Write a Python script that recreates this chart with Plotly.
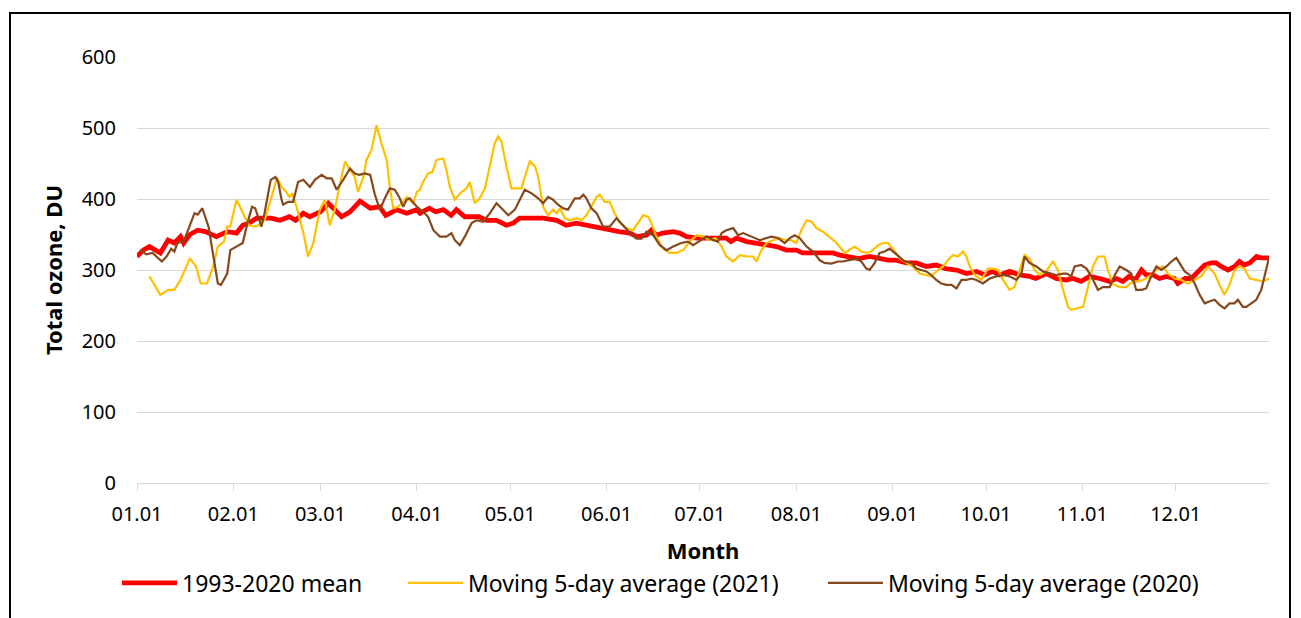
import plotly.graph_objects as go

# ---------------- data (day of year, 0 = 1 January) ----------------
month_ticks = [0, 31, 59, 90, 120, 151, 181, 212, 243, 273, 304, 334]
month_labels = ["01.01", "02.01", "03.01", "04.01", "05.01", "06.01",
                "07.01", "08.01", "09.01", "10.01", "11.01", "12.01"]
y_ticks = [0, 100, 200, 300, 400, 500, 600]

mean_days = [0, 2, 4, 7.5, 10, 12, 14, 15, 17, 19.5, 22, 25.5, 29, 32, 34, 36, 38.5, 43, 46, 49, 51, 53.5,
             55.6, 59, 61.5, 63.6, 65.8, 68.5, 71.7, 75, 78, 80, 83.5, 86.7, 90, 91, 94, 96, 98.5,
             101, 102.7, 105.4, 108, 110, 112.4, 115.6, 118.8, 121, 123, 127.4, 130.6, 135, 138,
             141.3, 144.5, 147.8, 152, 155, 158.5, 160.6, 163.8, 165.4, 167, 169, 172.4, 174.5,
             176.7, 180, 184, 189.5, 191, 192.8, 196, 199, 202.4, 205.6, 208.8, 212, 214, 217.4,
             220.6, 223.8, 226, 229, 232, 235.6, 238.8, 241.5, 244, 247.4, 250.6, 253.8, 257, 260,
             263.5, 266.7, 270, 272.6, 275, 277.4, 280.6, 283.8, 287, 289, 292.4, 295.6, 298.8,
             301, 303.6, 306.3, 309.5, 312.8, 315, 317, 319, 321, 323, 324.5, 326.7, 328.8, 331,
             333.6, 334.7, 337, 339, 341, 343.3, 345.4, 347, 348.6, 350.8, 353, 354.5, 356,
             357.8, 360, 361.5, 364]
mean_vals = [319, 328, 333, 324, 342, 338, 347, 338, 350, 356, 354, 347, 354, 352, 363, 366, 373, 373, 370,
             375, 370, 380, 375, 382, 394, 385, 375, 382, 397, 387, 389, 377, 385, 380, 385, 380,
             387, 382, 385, 377, 385, 375, 375, 375, 370, 370, 363, 366, 373, 373, 373, 370, 363,
             366, 363, 361, 356, 354, 352, 347, 349, 356, 349, 352, 354, 352, 347, 345, 345, 345,
             340, 345, 340, 338, 335, 333, 328, 328, 324, 324, 324, 324, 321, 319, 316, 319, 316,
             314, 314, 310, 310, 305, 307, 302, 300, 295, 298, 293, 298, 293, 298, 293, 291, 288,
             295, 288, 286, 288, 284, 291, 288, 284, 288, 284, 291, 286, 300, 293, 293, 288, 291,
             288, 281, 288, 288, 298, 307, 310, 310, 305, 300, 305, 312, 307, 310, 319, 317, 317]

y2021_days = [4, 7.5, 10, 12, 14, 17, 19, 20.5, 22.5, 24.5, 26, 28, 29, 30, 32, 33.5, 35, 36, 38.5, 41, 43,
              45, 46.5, 48, 49, 50, 51.3, 53.5, 55, 56.7, 58.8, 60.4, 62, 63.6, 65.3, 66.9, 68.5, 70,
              71.1, 72.8, 73.8, 75.4, 77, 78.6, 80.3, 81.3, 82.4, 84, 85.6, 86.7, 88.8, 90, 91, 92,
              93.6, 95, 96.3, 98.5, 99.5, 100.6, 102.2, 104.4, 106, 107, 108.6, 110.2, 111.9,
              113.5, 115, 116.1, 117.2, 118.8, 120.4, 122, 123.6, 124.7, 126.3, 128, 129, 130.6,
              132.2, 133.8, 135, 136, 137.6, 139.2, 141.3, 143, 144.5, 146.1, 147.8, 148.8, 150.4,
              152, 153.6, 155.3, 157.4, 159.5, 161.1, 162.8, 164.4, 165.4, 167, 169.2, 171.3,
              173.5, 175.6, 177.8, 180, 182, 184.2, 186, 188, 189.5, 191.7, 193.8, 196, 198.1,
              199.2, 200.8, 202.4, 204.5, 206.7, 208.8, 210.4, 212, 213.6, 215.3, 216.9, 218.5,
              220.6, 222.8, 225, 227.6, 229, 230.8, 232.9, 234.5, 236.1, 238.3, 239.9, 241.5,
              243.1, 245.3, 247.4, 249.5, 251.7, 253.8, 255.4, 257, 259.2, 260.8, 262.4, 264,
              265.6, 266.7, 267.8, 269.4, 271.5, 273.6, 275.3, 276.9, 278.5, 280.6, 282.2, 283.8,
              285.4, 287, 288.6, 290.3, 292.4, 294.5, 296.1, 297.8, 299.4, 300.4, 302, 304.2,
              305.8, 307.4, 309, 311.1, 312.2, 313.8, 316, 318, 320.3, 322.4, 324.5, 326.1, 328.3,
              329.9, 331.5, 333.6, 335.8, 337.9, 340, 342.2, 344.4, 346.5, 348.1, 349.7, 351.3,
              352.9, 354.5, 356.1, 357.8, 359.9, 362, 364]
y2021_vals = [291, 265, 272, 272, 286, 316, 305, 281, 281, 305, 333, 340, 361, 361, 399, 385, 370, 363, 361,
              370, 399, 430, 417, 410, 403, 408, 389, 352, 319, 338, 385, 399, 363, 385, 422, 453,
              441, 431, 410, 431, 455, 469, 504, 478, 455, 417, 387, 389, 396, 403, 394, 410, 413,
              424, 436, 438, 455, 457, 441, 417, 399, 410, 415, 424, 394, 401, 415, 446, 478, 488,
              481, 446, 415, 415, 415, 431, 453, 446, 431, 389, 377, 385, 380, 387, 373, 370, 373,
              370, 377, 389, 403, 406, 396, 396, 380, 366, 359, 356, 366, 377, 375, 366, 347, 330,
              324, 324, 328, 340, 349, 347, 342, 345, 333, 319, 312, 321, 319, 319, 312, 328, 338,
              342, 345, 342, 342, 338, 356, 370, 368, 359, 354, 346, 338, 324, 328, 333, 326, 324,
              326, 335, 338, 338, 330, 316, 310, 305, 295, 293, 291, 298, 305, 314, 321, 319, 326,
              319, 305, 293, 286, 302, 302, 300, 286, 272, 276, 300, 321, 316, 300, 293, 298, 312,
              300, 272, 248, 244, 246, 248, 276, 305, 319, 319, 300, 280, 276, 276, 284, 284, 288,
              293, 302, 305, 295, 288, 286, 281, 286, 291, 305, 295, 279, 265, 279, 300, 305, 302,
              288, 286, 284, 288]

y2020_days = [1, 3, 5, 8, 9.5, 11, 12, 13, 15, 16.5, 18.5, 19.5, 21, 23, 24.5, 26, 27, 29, 30, 32, 34,
              35.5, 37, 38, 40, 41, 43, 44.5, 45.4, 46.5, 47, 48.6, 50.2, 51.8, 53.5, 55.6, 57.2,
              59.4, 61, 62.6, 64.2, 66.3, 68.5, 70, 71.5, 73.3, 75, 76.5, 78.1, 79.7, 81.3, 82.9,
              84.5, 85.6, 86.7, 87.7, 90, 92, 93.6, 95.3, 97.4, 99.5, 101.1, 102.2, 103.8, 105.4,
              107.6, 109.2, 111.3, 113.5, 115.6, 117.2, 119.4, 121.5, 123.1, 124.7, 126.9, 129,
              130.6, 132.2, 133.8, 135.4, 137, 138.6, 140.8, 142.4, 143.5, 144.5, 146.1, 147.8,
              149.9, 152, 154.2, 156.3, 158.5, 160.6, 162.2, 163.8, 166, 168.1, 170.3, 172.4, 175,
              177.2, 178.8, 181, 183.1, 185.3, 186.8, 188, 189.5, 191.7, 193.3, 194.9, 196.5,
              198.6, 200.3, 202.4, 204, 206.1, 208.3, 209.9, 211.5, 213.1, 215.3, 217.4, 219.5,
              221.1, 223.3, 225.4, 227, 229, 231.3, 232.9, 234.5, 235.6, 237.2, 238.8, 240.4, 242,
              243.6, 245.3, 246.9, 249, 250.6, 252.2, 253.8, 255.4, 257, 258.6, 260.3, 261.9,
              263.5, 265.1, 266.7, 268.3, 269.9, 272, 274.2, 276.3, 278.5, 280.6, 282.8, 284.4,
              285.4, 287, 289.2, 291.3, 293.5, 295.6, 297.8, 299, 300.4, 301.5, 303.6, 305.3,
              306.9, 309, 310.6, 312.8, 314.4, 316, 318.1, 319.7, 321.3, 323, 324.5, 326.1, 327.8,
              329.4, 331, 332.6, 334.2, 335.3, 336.9, 338.5, 340.1, 341.7, 343.3, 345, 346.5,
              348.1, 349.7, 351.3, 352.9, 354, 355.6, 356.7, 358.3, 359.9, 361.5, 362.6, 364]
y2020_vals = [328, 322, 324, 312, 319, 330, 326, 338, 340, 356, 380, 378, 387, 361, 324, 281, 279, 295, 328,
              333, 338, 366, 389, 387, 361, 380, 427, 431, 424, 399, 392, 396, 396, 424, 427, 417,
              427, 434, 429, 429, 413, 427, 443, 436, 434, 436, 434, 406, 385, 401, 415, 413, 401,
              389, 399, 401, 389, 382, 375, 356, 347, 347, 352, 342, 335, 347, 366, 370, 368, 380,
              394, 387, 377, 385, 399, 413, 408, 401, 394, 403, 399, 392, 387, 385, 401, 401, 406,
              401, 387, 380, 361, 361, 373, 363, 352, 344, 344, 354, 349, 335, 328, 333, 338, 340,
              335, 341, 347, 342, 340, 352, 356, 359, 349, 352, 349, 345, 342, 345, 347, 345, 338,
              345, 349, 345, 333, 326, 314, 310, 309, 312, 312, 314, 316, 312, 302, 300, 310, 324,
              326, 330, 324, 319, 312, 310, 302, 300, 298, 293, 286, 281, 279, 279, 274, 286, 286,
              288, 286, 281, 288, 291, 293, 291, 286, 295, 319, 310, 305, 298, 295, 293, 295, 295,
              291, 305, 307, 302, 291, 272, 276, 276, 293, 305, 300, 295, 272, 272, 274, 291, 305,
              300, 305, 312, 317, 310, 298, 293, 281, 265, 253, 256, 258, 251, 246, 253, 253, 258,
              248, 248, 253, 258, 272, 291, 317]

series_names = ["1993-2020 mean", "Moving 5-day average (2021)", "Moving 5-day average (2020)"]

# ---------------- geometry (page pixels; the page body adds an 8 px margin) ----------------
PAGE_W, PAGE_H, BODY = 1301, 618, 8
PLOT_L, PLOT_R, PLOT_T, PLOT_B = 137, 1269, 57, 483
W, H = PAGE_W - BODY, PAGE_H - BODY
L, T = PLOT_L - BODY, PLOT_T - BODY
R, B = PAGE_W - PLOT_R, PAGE_H - PLOT_B
PW, PH = PLOT_R - PLOT_L, PLOT_B - PLOT_T


def px(xpage):
    return (xpage - PLOT_L) / PW


def py(ypage):
    return (PLOT_B - ypage) / PH


FONT = "Noto Sans"
fig = go.Figure()
fig.add_trace(go.Scatter(x=mean_days, y=mean_vals, mode="lines", name=series_names[0],
                         line=dict(color="#FF0000", width=4.8), legend="legend"))
fig.add_trace(go.Scatter(x=y2021_days, y=y2021_vals, mode="lines", name=series_names[1],
                         line=dict(color="#FFC000", width=2.2), legend="legend2"))
fig.add_trace(go.Scatter(x=y2020_days, y=y2020_vals, mode="lines", name=series_names[2],
                         line=dict(color="#85481C", width=2.2), legend="legend3"))

leg_common = dict(orientation="h", xanchor="left", yanchor="middle", y=py(583),
                  font=dict(size=23, family=FONT), itemwidth=55, bgcolor="rgba(0,0,0,0)")

fig.update_layout(
    width=W, height=H,
    margin=dict(l=L, r=R, t=T, b=B),
    paper_bgcolor="white", plot_bgcolor="white",
    font=dict(family=FONT, color="#000000", size=20),
    showlegend=True,
    legend=dict(x=px(117), **leg_common),
    legend2=dict(x=px(403), **leg_common),
    legend3=dict(x=px(823), **leg_common),
    xaxis=dict(range=[0, 364], tickmode="array", tickvals=month_ticks, ticktext=month_labels,
               showgrid=False, zeroline=False, showline=True, linecolor="#D9D9D9", linewidth=1,
               ticks="outside", ticklen=7, tickcolor="#D9D9D9", tickfont=dict(size=20),
               ticklabelstandoff=6,
               title=dict(text="<b>Month</b>", font=dict(size=22), standoff=17)),
    yaxis=dict(range=[0, 600], tickvals=y_ticks, showgrid=True, gridcolor="#D9D9D9", gridwidth=1,
               zeroline=False, showline=False, ticks="", ticklabelstandoff=20,
               tickfont=dict(size=20),
               title=dict(text="<b>Total ozone, DU</b>", font=dict(size=22), standoff=12)),
    shapes=[dict(type="rect", xref="paper", yref="paper",
                 x0=px(10), x1=px(1290), y0=py(640), y1=py(13),
                 line=dict(color="black", width=2), fillcolor="rgba(0,0,0,0)", layer="above")],
)

fig.write_html("out.html")
